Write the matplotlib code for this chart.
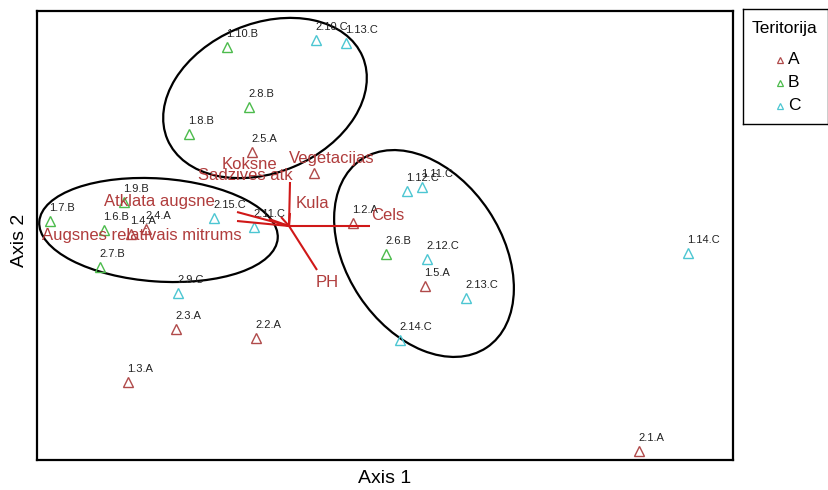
"""Ordination biplot: sites by territory with environmental vectors and group ellipses."""

import matplotlib
matplotlib.use("Agg")
import matplotlib.pyplot as plt
from matplotlib.patches import Ellipse

plt.rcParams["font.family"] = ["Liberation Sans", "DejaVu Sans"]

# ---------------------------------------------------------------------------
# Data (site scores)
# ---------------------------------------------------------------------------
site_names = [
    "1.10.B", "2.10.C", "1.13.C", "2.8.B", "1.8.B", "2.5.A", "1.1.A",
    "1.11.C", "1.12.C", "1.2.A", "2.6.B", "2.12.C", "1.5.A", "2.13.C",
    "2.14.C", "1.14.C", "2.1.A", "2.3.A", "2.2.A", "1.3.A", "2.9.C",
    "1.7.B", "1.9.B", "1.6.B", "1.4.A", "2.4.A", "2.15.C", "2.11.C", "2.7.B",
]
site_group = [
    "B", "C", "C", "B", "B", "A", "A",
    "C", "C", "A", "B", "C", "A", "C",
    "C", "C", "A", "A", "A", "A", "C",
    "B", "B", "B", "A", "A", "C", "C", "B",
]
axis1 = [
    -0.62, 0.27, 0.57, -0.40, -1.00, -0.37, 0.25,
    1.33, 1.18, 0.64, 0.97, 1.38, 1.36, 1.77,
    1.11, 3.99, 3.50, -1.13, -0.33, -1.61, -1.11,
    -2.39, -1.65, -1.85, -1.58, -1.43, -0.75, -0.35, -1.89,
]
axis2 = [
    1.79, 1.86, 1.83, 1.19, 0.92, 0.74, 0.53,
    0.39, 0.35, 0.03, -0.28, -0.33, -0.60, -0.72,
    -1.14, -0.27, -2.25, -1.03, -1.12, -1.56, -0.67,
    0.05, 0.24, -0.04, -0.08, -0.03, 0.08, -0.01, -0.41,
]
# 1.1.A has its label hidden under the vector labels in the original
site_label_shown = [n != "1.1.A" for n in site_names]

# environmental vectors
var_names = ["Cels", "PH", "Kula", "Vegetacijas", "Atklata augsne",
             "Augsnes relativais mitrums", "Koksne", "Sadzives atk"]
var_axis1 = [0.81, 0.28, 0.01, 0.01, -0.52, -0.52, -0.20, -0.08]
var_axis2 = [0.00, -0.44, 0.13, 0.44, 0.14, 0.05, 0.07, 0.09]

# group ellipses: centre, full width, full height, angle
ell_x = [-0.24, -1.305, 1.35]
ell_y = [1.28, -0.04, -0.275]
ell_w = [2.12, 2.39, 2.26]
ell_h = [1.49, 1.03, 1.55]
ell_angle = [23, -4, -56.4]

groups = ["A", "B", "C"]

# ---------------------------------------------------------------------------
# Style
# ---------------------------------------------------------------------------
C_GROUP = {"A": "#b04a4a", "B": "#4cbb4c", "C": "#4cc6d2"}
C_VEC = "#d01818"
C_VEC_TXT = "#b03c3c"
# label offsets from vector tip (pixels, x right / y up) and alignment
VEC_LABEL = {
    "Cels": (1, 11, "left"),
    "PH": (-1, -12, "left"),
    "Kula": (6, 10, "left"),
    "Vegetacijas": (-1, 24, "left"),
    "Atklata augsne": (-22, 11, "right"),
    "Augsnes relativais mitrums": (5, -14, "right"),
    "Koksne": (-47, 55, "left"),
    "Sadzives atk": (-83, 42, "left"),
}


def main():
    fig = plt.figure(figsize=(8.29, 4.90), dpi=100)
    ax = fig.add_axes([37 / 829, 30 / 490, 696 / 829, 449 / 490])
    ax.set_xlim(-2.52, 4.44)
    ax.set_ylim(-2.34, 2.15)
    ax.set_xticks([])
    ax.set_yticks([])
    for sp in ax.spines.values():
        sp.set_linewidth(1.6)
        sp.set_color("black")

    # sites
    for name, g, x, y, show in zip(site_names, site_group, axis1, axis2,
                                   site_label_shown):
        ax.plot(x, y, marker="^", ms=6.5, mfc="none", mec=C_GROUP[g],
                mew=1.0, ls="none", zorder=3)
        if show:
            ax.annotate(name, (x, y), xytext=(-1, 13), textcoords="offset pixels",
                        ha="left", va="center", fontsize=8, color="#222222",
                        zorder=4)

    # ellipses
    for cx, cy, w, h, a in zip(ell_x, ell_y, ell_w, ell_h, ell_angle):
        ax.add_patch(Ellipse((cx, cy), w, h, angle=a, fill=False,
                             edgecolor="black", lw=1.6, zorder=2))

    # vectors
    for name, vx, vy in zip(var_names, var_axis1, var_axis2):
        ax.plot([0, vx], [0, vy], color=C_VEC, lw=1.5, zorder=5,
                solid_capstyle="butt")
        ox, oy, ha = VEC_LABEL[name]
        ax.annotate(name, (vx, vy), xytext=(ox, oy), textcoords="offset pixels",
                    ha=ha, va="center", fontsize=12, color=C_VEC_TXT, zorder=6)

    fig.text(385 / 829, 1 - 478 / 490, "Axis 1", ha="center", va="center",
             fontsize=14)
    fig.text(20 / 829, 1 - 240 / 490, "Axis 2", ha="center", va="center",
             fontsize=14, rotation=90)

    # legend
    lax = fig.add_axes([743 / 829, 1 - 124 / 490, 85 / 829, 115 / 490])
    lax.set_xlim(0, 85)
    lax.set_ylim(115, 0)
    lax.set_xticks([])
    lax.set_yticks([])
    for sp in lax.spines.values():
        sp.set_linewidth(1.0)
    lax.text(42, 20, "Teritorija", ha="center", va="center", fontsize=12.5)
    for i, g in enumerate(groups):
        yy = 51 + i * 23
        lax.plot(37, yy, marker="^", ms=5, mfc="none", mec=C_GROUP[g],
                 mew=0.9, ls="none")
        lax.text(45, yy, g, ha="left", va="center", fontsize=12.5)

    fig.savefig("out.png", dpi=100)
    plt.close(fig)


if __name__ == "__main__":
    main()
